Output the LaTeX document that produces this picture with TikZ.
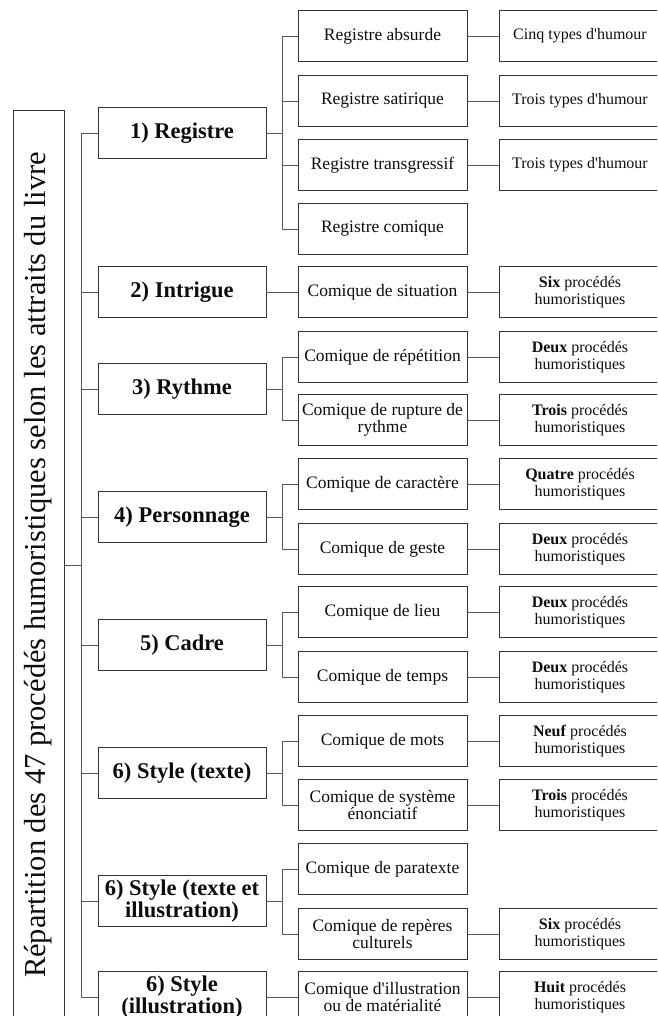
\documentclass[tikz,border=0pt]{standalone}
\usepackage{fontspec}
\setmainfont{Liberation Serif}
\begin{document}
\begin{tikzpicture}[x=1pt,y=-1pt,
  box/.style={draw=black!80, line width=0.9pt, rectangle, inner sep=1pt, align=center, text=black!95, minimum height=51pt},
  lone/.style={box, minimum width=168pt, font=\fontsize{22.5}{22}\selectfont\bfseries},
  ltwo/.style={box, minimum width=169pt, font=\fontsize{17.5}{17.5}\selectfont},
  lthree/.style={box, minimum width=162pt, font=\fontsize{16}{17}\selectfont},
  rootbox/.style={box, rotate=90, minimum width=910pt, minimum height=51pt, font=\fontsize{30.5}{32}\selectfont},
  link/.style={draw=black!65, line width=0.9pt}]
\useasboundingbox (0,0) rectangle (657,1016);
\clip (0,0) rectangle (657,1016);

% root
\node[rootbox] (root) at (38.5,565) {Répartition des 47 procédés humoristiques selon les attraits du livre};

% level 1
\node[lone] (A) at (182,133) {1) Registre};
\node[lone] (B) at (182,292) {2) Intrigue};
\node[lone] (C) at (182,389) {3) Rythme};
\node[lone] (D) at (182,517) {4) Personnage};
\node[lone] (E) at (182,645) {5) Cadre};
\node[lone] (F) at (182,773) {6) Style (texte)};
\node[lone] (G) at (182,901) {6) Style (texte et\\illustration)};
\node[lone] (H) at (182,997) {6) Style\\(illustration)};

% level 2
\node[ltwo] (a0) at (382.5,36) {Registre absurde};
\node[ltwo] (a1) at (382.5,101) {Registre satirique};
\node[ltwo] (a2) at (382.5,165) {Registre transgressif};
\node[ltwo] (a3) at (382.5,229) {Registre comique};
\node[ltwo] (b0) at (382.5,292) {Comique de situation};
\node[ltwo] (c0) at (382.5,357) {Comique de répétition};
\node[ltwo] (c1) at (382.5,420) {Comique de rupture de\\rythme};
\node[ltwo] (d0) at (382.5,484) {Comique de caractère};
\node[ltwo] (d1) at (382.5,549) {Comique de geste};
\node[ltwo] (e0) at (382.5,612) {Comique de lieu};
\node[ltwo] (e1) at (382.5,677) {Comique de temps};
\node[ltwo] (f0) at (382.5,741) {Comique de mots};
\node[ltwo] (f1) at (382.5,805) {Comique de système\\énonciatif};
\node[ltwo] (g0) at (382.5,869) {Comique de paratexte};
\node[ltwo] (g1) at (382.5,934) {Comique de repères\\culturels};
\node[ltwo] (h0) at (382.5,997) {Comique d\textquotesingle illustration\\ou de matérialité};

% level 3
\node[lthree] (xa0) at (580,36) {Cinq types d\textquotesingle humour};
\node[lthree] (xa1) at (580,101) {Trois types d\textquotesingle humour};
\node[lthree] (xa2) at (580,165) {Trois types d\textquotesingle humour};
\node[lthree] (xb0) at (580,292) {\textbf{Six} procédés\\humoristiques};
\node[lthree] (xc0) at (580,357) {\textbf{Deux} procédés\\humoristiques};
\node[lthree] (xc1) at (580,420) {\textbf{Trois} procédés\\humoristiques};
\node[lthree] (xd0) at (580,484) {\textbf{Quatre} procédés\\humoristiques};
\node[lthree] (xd1) at (580,549) {\textbf{Deux} procédés\\humoristiques};
\node[lthree] (xe0) at (580,612) {\textbf{Deux} procédés\\humoristiques};
\node[lthree] (xe1) at (580,677) {\textbf{Deux} procédés\\humoristiques};
\node[lthree] (xf0) at (580,741) {\textbf{Neuf} procédés\\humoristiques};
\node[lthree] (xf1) at (580,805) {\textbf{Trois} procédés\\humoristiques};
\node[lthree] (xg1) at (580,934) {\textbf{Six} procédés\\humoristiques};
\node[lthree] (xh0) at (580,997) {\textbf{Huit} procédés\\humoristiques};

% trunk
\draw[link] (root.south) -- ++(17,0) coordinate (t);
\foreach \n in {A,B,C,D,E,F,G,H} { \draw[link] (t) |- (\n.west); }

% level 1 -> level 2
\draw[link] (A.east) -- ++(16,0) coordinate (tA);
\foreach \n in {a0,a1,a2,a3} { \draw[link] (tA) |- (\n.west); }
\draw[link] (B.east) -- (b0.west);
\draw[link] (C.east) -- ++(16,0) coordinate (tC);
\foreach \n in {c0,c1} { \draw[link] (tC) |- (\n.west); }
\draw[link] (D.east) -- ++(16,0) coordinate (tD);
\foreach \n in {d0,d1} { \draw[link] (tD) |- (\n.west); }
\draw[link] (E.east) -- ++(16,0) coordinate (tE);
\foreach \n in {e0,e1} { \draw[link] (tE) |- (\n.west); }
\draw[link] (F.east) -- ++(16,0) coordinate (tF);
\foreach \n in {f0,f1} { \draw[link] (tF) |- (\n.west); }
\draw[link] (G.east) -- ++(16,0) coordinate (tG);
\foreach \n in {g0,g1} { \draw[link] (tG) |- (\n.west); }
\draw[link] (H.east) -- (h0.west);

% level 2 -> level 3
\foreach \s in {a0,a1,a2,b0,c0,c1,d0,d1,e0,e1,f0,f1,g1,h0} { \draw[link] (\s.east) -- (x\s.west); }
\end{tikzpicture}
\end{document}
